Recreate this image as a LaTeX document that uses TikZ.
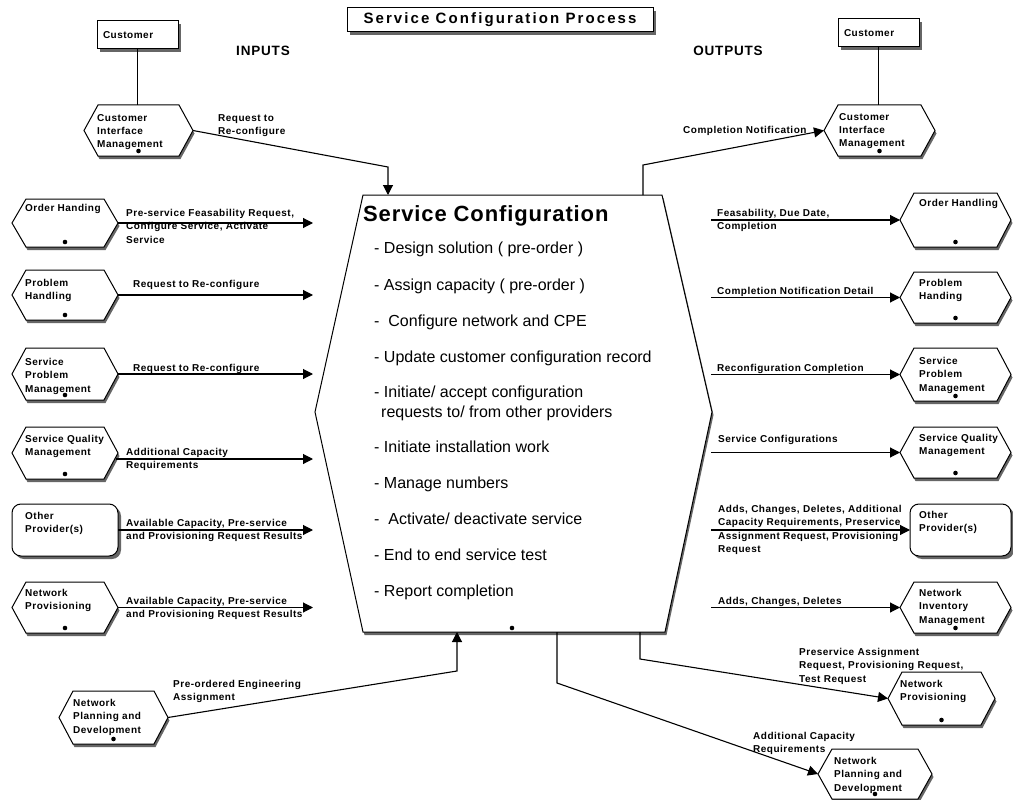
\documentclass[tikz,border=0pt]{standalone}
\usepackage{fontspec}
\setmainfont{Liberation Sans}
\newfontfamily\labfont[LetterSpace=5]{Liberation Sans}
\newfontfamily\headfont[LetterSpace=6]{Liberation Sans}
\newfontfamily\titlefont[LetterSpace=14]{Liberation Sans}
\newfontfamily\bigfont[LetterSpace=4]{Liberation Sans}
\usetikzlibrary{arrows.meta,shadows}

% hexagonal process box: name, x1, y1, x2, y2, text x, first text line y, text
\newcommand\hexnode[8]{%
  \draw[shp,hexshadow] (#2,{(#3+#5)/2}) -- ({#2+14},#3) -- ({#4-14},#3) -- (#4,{(#3+#5)/2}) -- ({#4-14},#5) -- ({#2+14},#5) -- cycle;
  \node[frame,minimum width={(#4-#2)*1pt},minimum height={(#5-#3)*1pt}] (#1) at ({(#2+#4)/2},{(#3+#5)/2}) {};
  \fill ({(#2+#4)/2},{#5-5}) circle (2.3);
  \node[lab] (#1-t) at (#6,#7) {#8};
}
% rounded box for external parties
\newcommand\roundnode[8]{%
  \draw[shp,boxshadow,rounded corners=9] (#2,#3) rectangle (#4,#5);
  \node[frame,minimum width={(#4-#2)*1pt},minimum height={(#5-#3)*1pt}] (#1) at ({(#2+#4)/2},{(#3+#5)/2}) {};
  \node[lab] (#1-t) at (#6,#7) {#8};
}

\begin{document}
\begin{tikzpicture}[x=1pt,y=-1pt,
  shp/.style={draw=black,line width=1pt,fill=white},
  hexshadow/.style={drop shadow={shadow xshift=1.5pt,shadow yshift=-3pt,fill=black!60,opacity=1}},
  boxshadow/.style={drop shadow={shadow xshift=3pt,shadow yshift=-3pt,fill=black!60,opacity=1}},
  frame/.style={shape=rectangle,inner sep=0pt,outer sep=0pt,draw=none},
  lab/.style={font=\labfont\bfseries\fontsize{10}{13.2}\selectfont,align=left,anchor=north west,inner sep=0pt,yshift=3.7pt},
  item/.style={font=\fontsize{16}{20}\selectfont,align=left,anchor=north west,inner sep=0pt,yshift=5.8pt},
  head/.style={font=\headfont\bfseries\fontsize{13.5}{16}\selectfont,inner sep=0pt},
  custbox/.style={shp,boxshadow,minimum height=28pt,text width=69pt,inner xsep=6pt,align=left,
                  font=\labfont\bfseries\fontsize{10}{12}\selectfont},
  titlebox/.style={shp,boxshadow,minimum width=306pt,minimum height=24pt,inner sep=0pt,
                   font=\titlefont\bfseries\fontsize{15}{18}\selectfont},
  conn/.style={line width=1.1pt},
  arr/.style={conn,-{Triangle[length=10pt,width=10pt]}}]

\fill[white] (0,0) rectangle (1013,800);
\useasboundingbox (0,0) rectangle (1013,800);

% title and column headings
\node[titlebox] (title) at (500,20) {Service Configuration Process};
\node[head] (inputs) at (263,51) {INPUTS};
\node[head] (outputs) at (728,51) {OUTPUTS};

% customers
\node[custbox] (custL) at (137.5,35) {Customer};
\node[custbox] (custR) at (878.5,33) {Customer};

% central process
\draw[shp,hexshadow] (315,412) -- (363,195) -- (662,195) -- (712,412) -- (665,632) -- (363,632) -- cycle;
\node[frame,minimum width=397pt,minimum height=437pt] (sc) at (513.5,413.5) {};
\fill (512,628) circle (2.3);
\node[font=\bigfont\bfseries\fontsize{22}{26}\selectfont,anchor=north west,inner sep=0pt,yshift=7.9pt] (sctitle) at (363,213) {Service Configuration};
\node[item] (i1) at (374,248) {- Design solution ( pre-order )};
\node[item] (i2) at (374,285) {- Assign capacity ( pre-order )};
\node[item] (i3) at (374,321) {-\ \ Configure network and CPE};
\node[item] (i4) at (374,357) {- Update customer configuration record};
\node[item] (i5) at (374,392) {-\ Initiate/ accept configuration\\\hspace*{7pt}requests to/ from other providers};
\node[item] (i6) at (374,447) {- Initiate installation work};
\node[item] (i7) at (374,483) {- Manage numbers};
\node[item] (i8) at (374,519) {-\ \ Activate/ deactivate service};
\node[item] (i9) at (374,555) {- End to end service test};
\node[item] (i10) at (374,591) {- Report completion};

% input side
\hexnode{cimL}{84}{105}{193}{156}{97}{118}{Customer\\Interface\\Management}
\hexnode{ohL}{12}{199}{118}{247}{25}{208}{Order Handing}
\hexnode{phL}{12}{270}{118}{320}{25}{283}{Problem\\Handling}
\hexnode{spmL}{12}{348}{118}{400}{25}{362}{Service\\Problem\\Management}
\hexnode{sqmL}{12}{427}{118}{479}{25}{439}{Service Quality\\Management}
\roundnode{opL}{12}{504}{118}{556}{25}{516}{Other\\Provider(s)}
\hexnode{npL}{12}{582}{118}{633}{25}{593}{Network\\Provisioning}
\hexnode{npdL}{59}{691}{168}{744}{73}{703}{Network\\Planning and\\Development}

% output side
\hexnode{cimR}{824}{105}{935}{156}{839}{117}{Customer\\Interface\\Management}
\hexnode{ohR}{900}{193}{1011}{247}{919}{203}{Order Handling}
\hexnode{phR}{900}{272}{1011}{323}{919}{283}{Problem\\Handing}
\hexnode{spmR}{900}{348}{1011}{401}{919}{361}{Service\\Problem\\Management}
\hexnode{sqmR}{900}{427}{1011}{478}{919}{438}{Service Quality\\Management}
\roundnode{opR}{910}{504}{1011}{556}{919}{515}{Other\\Provider(s)}
\hexnode{nimR}{900}{582}{1011}{633}{919}{593}{Network\\Inventory\\Management}
\hexnode{npR}{888}{672}{995}{725}{900}{684}{Network\\Provisioning}
\hexnode{npdR}{818}{749}{932}{799}{834}{761}{Network\\Planning and\\Development}

% connectors
\coordinate (inx) at (313,0);
\coordinate (outx) at (711,0);
\coordinate (k1) at (388,167);
\coordinate (k2) at (457,671);
\coordinate (k3) at (557,683);
\coordinate (k4) at (640,659);
\coordinate (k5) at (643,165);

\draw[conn] (custL.south) -- (custL.south |- cimL.north);
\draw[conn] (custR.south) -- (custR.south |- cimR.north);
\draw[arr] (cimL.east) -- (k1) -- (k1 |- sc.north);
\draw[arr] (k5 |- sc.north) -- (k5) -- (cimR.west);

\foreach \n in {ohL,phL,spmL,opL,npL}
  \draw[arr] (\n.east) -- (\n.east -| inx);
\draw[arr] ([shift={(-2pt,-6pt)}]sqmL.east) -- ([yshift=-6pt]sqmL.east -| inx);
\foreach \n in {ohR,phR,spmR,sqmR,opR,nimR}
  \draw[arr] (outx |- \n.west) -- (\n.west);

\draw[arr] (npdL.east) -- (k2) -- (k2 |- sc.south);
\draw[arr] (k3 |- sc.south) -- (k3) -- (npdR.west);
\draw[arr] (k4 |- sc.south) -- (k4) -- (npR.west);

% flow labels
\node[lab] (l1) at (218,118) {Request to\\Re-configure};
\node[lab] (l2) at (126,213) {Pre-service Feasability Request,\\Configure Service, Activate\\Service};
\node[lab] (l3) at (133,284) {Request to Re-configure};
\node[lab] (l4) at (133,368) {Request to Re-configure};
\node[lab] (l5) at (126,452) {Additional Capacity\\Requirements};
\node[lab] (l6) at (126,523) {Available Capacity, Pre-service\\and Provisioning Request Results};
\node[lab] (l7) at (126,601) {Available Capacity, Pre-service\\and Provisioning Request Results};
\node[lab] (l8) at (173,684) {Pre-ordered Engineering\\Assignment};
\node[lab] (r1) at (683,130) {Completion Notification};
\node[lab] (r2) at (717,213) {Feasability, Due Date,\\Completion};
\node[lab] (r3) at (717,291) {Completion Notification Detail};
\node[lab] (r4) at (717,368) {Reconfiguration Completion};
\node[lab] (r5) at (718,439) {Service Configurations};
\node[lab] (r6) at (718,509) {Adds, Changes, Deletes, Additional\\Capacity Requirements, Preservice\\Assignment Request, Provisioning\\Request};
\node[lab] (r7) at (718,601) {Adds, Changes, Deletes};
\node[lab] (r8) at (799,652) {Preservice Assignment\\Request, Provisioning Request,\\Test Request};
\node[lab] (r9) at (753,736) {Additional Capacity\\Requirements};
\end{tikzpicture}
\end{document}
